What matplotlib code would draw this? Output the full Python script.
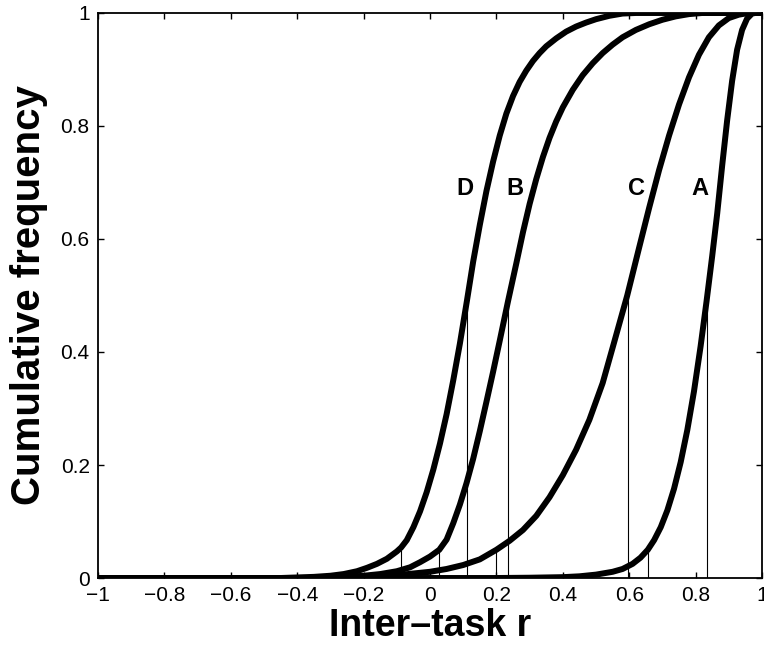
"""Cumulative frequency of inter-task r for conditions A-D."""

import matplotlib
matplotlib.use("Agg")
import matplotlib.pyplot as plt

plt.rcParams.update({
    "font.family": ["Liberation Sans", "DejaVu Sans"],
    "axes.linewidth": 1.3,
    "xtick.direction": "in",
    "ytick.direction": "in",
    "xtick.major.size": 4,
    "ytick.major.size": 4,
    "xtick.major.width": 1.0,
    "ytick.major.width": 1.0,
})

# curve points (x = inter-task r, y = cumulative frequency)
d_x = [-1, -0.45, -0.40, -0.35, -0.30, -0.26, -0.22, -0.19, -0.16, -0.13, -0.10,
       -0.087, -0.07, -0.05, -0.03, -0.01, 0.01, 0.03, 0.05, 0.07, 0.09, 0.111,
       0.13, 0.15, 0.17, 0.19, 0.21, 0.23, 0.25, 0.27, 0.29, 0.31, 0.33, 0.35,
       0.38, 0.41, 0.44, 0.47, 0.50, 0.54, 0.58, 0.62, 1]
d_y = [0, 0, 0.001, 0.002, 0.004, 0.007, 0.012, 0.018, 0.025, 0.034, 0.047,
       0.054, 0.067, 0.090, 0.118, 0.152, 0.192, 0.238, 0.29, 0.35, 0.415, 0.49,
       0.56, 0.625, 0.685, 0.737, 0.783, 0.822, 0.853, 0.878, 0.898, 0.915, 0.929, 0.941,
       0.955, 0.967, 0.976, 0.983, 0.989, 0.995, 0.999, 1.0, 1.0]

b_x = [-1, -0.35, -0.30, -0.25, -0.20, -0.15, -0.10, -0.06, -0.03, 0.0, 0.028,
       0.05, 0.07, 0.09, 0.11, 0.13, 0.15, 0.17, 0.19, 0.21, 0.235, 0.26, 0.28,
       0.30, 0.32, 0.34, 0.36, 0.38, 0.40, 0.43, 0.46, 0.49, 0.52, 0.55, 0.58,
       0.62, 0.66, 0.70, 0.74, 0.78, 0.82, 1]
b_y = [0, 0, 0.001, 0.002, 0.004, 0.007, 0.012, 0.019, 0.028, 0.038, 0.050,
       0.068, 0.097, 0.13, 0.168, 0.211, 0.26, 0.312, 0.365, 0.42, 0.49, 0.557, 0.612,
       0.662, 0.706, 0.745, 0.779, 0.808, 0.833, 0.864, 0.890, 0.911, 0.929, 0.944, 0.957,
       0.970, 0.980, 0.988, 0.994, 0.998, 1.0, 1.0]

c_x = [-1, -0.35, -0.30, -0.25, -0.20, -0.15, -0.10, -0.05, 0.0, 0.05, 0.10, 0.15,
       0.20, 0.24, 0.28, 0.32, 0.36, 0.40, 0.44, 0.48, 0.52, 0.555, 0.594, 0.63,
       0.66, 0.69, 0.72, 0.75, 0.78, 0.81, 0.84, 0.87, 0.90, 0.93, 0.96, 1]
c_y = [0, 0, 0.0005, 0.001, 0.002, 0.003, 0.005, 0.008, 0.011, 0.016, 0.023, 0.033,
       0.050, 0.066, 0.085, 0.110, 0.143, 0.182, 0.227, 0.280, 0.345, 0.418, 0.50, 0.585,
       0.655, 0.722, 0.783, 0.838, 0.886, 0.926, 0.957, 0.978, 0.991, 0.997, 1.0, 1.0]

a_x = [-1, 0.20, 0.30, 0.40, 0.45, 0.50, 0.55, 0.58, 0.61, 0.634, 0.656, 0.675,
       0.695, 0.715, 0.735, 0.755, 0.775, 0.795, 0.815, 0.833, 0.85, 0.865, 0.88,
       0.895, 0.91, 0.925, 0.94, 0.955, 0.97, 0.98, 1]
a_y = [0, 0, 0.0005, 0.0015, 0.003, 0.006, 0.011, 0.016, 0.025, 0.036, 0.050, 0.067,
       0.09, 0.12, 0.158, 0.205, 0.262, 0.33, 0.41, 0.49, 0.57, 0.645, 0.73,
       0.81, 0.88, 0.935, 0.97, 0.99, 0.999, 1.0, 1.0]

# thin markers: 5th percentile and median of each curve
marker_x = [-0.087, 0.111, 0.028, 0.235, 0.200, 0.596, 0.656, 0.834]
marker_y = [0.05, 0.5, 0.05, 0.5, 0.05, 0.5, 0.05, 0.5]

labels = ["D", "B", "C", "A"]
label_x = [0.105, 0.256, 0.623, 0.813]
label_y = [0.69, 0.69, 0.69, 0.69]

xticks = [-1, -0.8, -0.6, -0.4, -0.2, 0, 0.2, 0.4, 0.6, 0.8, 1]
xticklabels = ["\u22121", "\u22120.8", "\u22120.6", "\u22120.4", "\u22120.2",
               "0", "0.2", "0.4", "0.6", "0.8", "1"]
yticks = [0, 0.2, 0.4, 0.6, 0.8, 1]
yticklabels = ["0", "0.2", "0.4", "0.6", "0.8", "1"]


def render():
    fig = plt.figure(figsize=(7.64, 6.59), dpi=100)
    ax = fig.add_axes([0.1283, 0.1229, 0.8691, 0.8574])

    ax.vlines(marker_x, 0, marker_y, color="black", linewidth=0.8)

    for xs, ys in [(d_x, d_y), (b_x, b_y), (c_x, c_y), (a_x, a_y)]:
        ax.plot(xs, ys, color="black", linewidth=4.3,
                solid_joinstyle="round", solid_capstyle="butt")

    for lab, lx, ly in zip(labels, label_x, label_y):
        ax.text(lx, ly, lab, ha="center", va="center",
                fontsize=17, fontweight="bold")

    ax.set_xlim(-1, 1)
    ax.set_ylim(0, 1)
    ax.set_xticks(xticks)
    ax.set_xticklabels(xticklabels, fontsize=15)
    ax.set_yticks(yticks)
    ax.set_yticklabels(yticklabels, fontsize=15)
    ax.tick_params(top=True, right=True, pad=6)

    ax.set_xlabel("Inter\u2013task r", fontsize=27, fontweight="bold", labelpad=2)
    ax.set_ylabel("Cumulative frequency", fontsize=29, fontweight="bold", labelpad=9)

    fig.savefig("out.png", dpi=100, facecolor="white")
    plt.close(fig)


if __name__ == "__main__":
    render()
